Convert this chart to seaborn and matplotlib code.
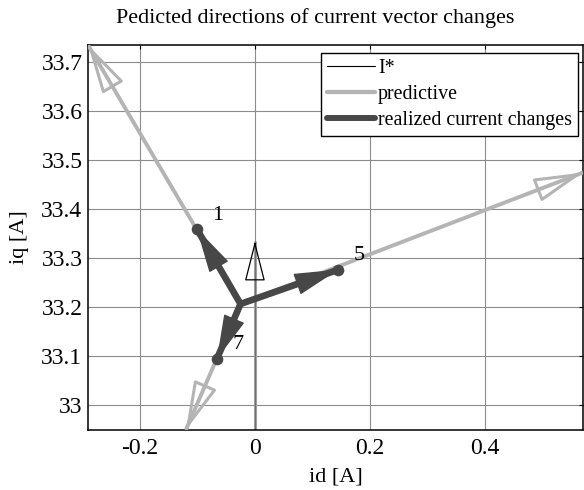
import matplotlib
matplotlib.use("Agg")
import matplotlib.pyplot as plt
import seaborn as sns
import pandas as pd
from matplotlib.patches import ArrowStyle
from matplotlib.lines import Line2D

# Operating point (start of every vector)
origin_id = -0.025
origin_iq = 33.207

# Reference current vector I*
iref_id = [0.0, 0.0]
iref_iq = [32.95, 33.335]

# Voltage vector numbers and the current changes they produce
vec_labels = ["1", "5", "7"]
realized_id = [-0.101, 0.145, -0.066]
realized_iq = [33.360, 33.277, 33.095]

# Predicted direction tips for the same vectors
predicted_id = [-0.290, 0.570, -0.120]
predicted_iq = [33.735, 33.475, 32.950]

xticks = [-0.2, 0.0, 0.2, 0.4]
xticklabels = ["-0.2", "0", "0.2", "0.4"]
yticks = [33.0, 33.1, 33.2, 33.3, 33.4, 33.5, 33.6, 33.7]
yticklabels = ["33", "33.1", "33.2", "33.3", "33.4", "33.5", "33.6", "33.7"]

PRED_COLOR = "#b4b4b4"
REAL_COLOR = "#474747"
GRID_COLOR = "#8c8c8c"

sns.set_style("white")
plt.rcParams["font.family"] = ["Liberation Serif", "DejaVu Serif"]
plt.rcParams["text.color"] = "black"
plt.rcParams["axes.labelcolor"] = "black"

fig = plt.figure(figsize=(5.84, 4.90), dpi=100)
ax = fig.add_axes([88 / 584, 60 / 490, 495 / 584, 385 / 490])

ax.set_xlim(min(predicted_id), max(predicted_id))
ax.set_ylim(min(predicted_iq), max(predicted_iq))

ax.set_xticks(xticks)
ax.set_xticklabels(xticklabels)
ax.set_yticks(yticks)
ax.set_yticklabels(yticklabels)
ax.grid(True, color=GRID_COLOR, linewidth=0.8)
ax.set_axisbelow(True)
ax.tick_params(direction="in", length=3, width=0.8, top=True, right=True,
               labelsize=17, colors="black")
ax.tick_params(axis="x", pad=6)
ax.tick_params(axis="y", pad=4)
for s in ax.spines.values():
    s.set_color("black")
    s.set_linewidth(1.1)

# Reference vector I*
ax.plot(iref_id, iref_iq, color="#a0a0a0", lw=2.2, solid_capstyle="butt", zorder=2)
ax.plot(iref_id, iref_iq, color="#666666", lw=0.6, solid_capstyle="butt", zorder=2.1)
ax.annotate("", xy=(iref_id[1], iref_iq[1]), xytext=(iref_id[1], iref_iq[1] - 0.01),
            arrowprops=dict(arrowstyle=ArrowStyle("-|>", head_length=2.6, head_width=0.66),
                            mutation_scale=10, fc="none", ec="black", lw=0.9,
                            shrinkA=0, shrinkB=0), zorder=2.2)

# Predicted directions: light grey lines with open heads
for px, py in zip(predicted_id, predicted_iq):
    ax.plot([origin_id, px], [origin_iq, py], color=PRED_COLOR, lw=2.8,
            solid_capstyle="butt", zorder=3)
    dx, dy = px - origin_id, py - origin_iq
    ax.annotate("", xy=(px, py), xytext=(px - 0.02 * dx, py - 0.02 * dy),
                arrowprops=dict(arrowstyle=ArrowStyle("-|>", head_length=3.0, head_width=0.75),
                                mutation_scale=10, fc="none", ec=PRED_COLOR, lw=2.2,
                                shrinkA=0, shrinkB=0), zorder=3.1, annotation_clip=False)

# Realized current changes: dark thick lines with filled heads
for rx, ry in zip(realized_id, realized_iq):
    ax.plot([origin_id, rx], [origin_iq, ry], color=REAL_COLOR, lw=4.8,
            solid_capstyle="butt", solid_joinstyle="round", zorder=4)
    dx, dy = rx - origin_id, ry - origin_iq
    ax.annotate("", xy=(rx, ry), xytext=(rx - 0.05 * dx, ry - 0.05 * dy),
                arrowprops=dict(arrowstyle=ArrowStyle("-|>", head_length=2.9, head_width=0.72),
                                mutation_scale=10, fc=REAL_COLOR, ec=REAL_COLOR, lw=1.0,
                                shrinkA=0, shrinkB=0), zorder=4.1)

pts = pd.DataFrame({"id": realized_id, "iq": realized_iq, "vec": vec_labels})
sns.scatterplot(data=pts, x="id", y="iq", ax=ax, color=REAL_COLOR, s=70,
                edgecolor=REAL_COLOR, linewidth=0, zorder=5, legend=False)

for lab, rx, ry in zip(vec_labels, realized_id, realized_iq):
    ax.annotate(lab, xy=(rx, ry), xytext=(15, 10), textcoords="offset points",
                ha="center", va="center", fontsize=16, color="black", zorder=6)

ax.set_xlabel("id [A]", fontsize=16, labelpad=6)
ax.set_ylabel("iq [A]", fontsize=16, labelpad=9)
fig.text(315 / 584, 1 - 18 / 490, "Pedicted directions of current vector changes",
         ha="center", va="center", fontsize=15.9)

handles = [Line2D([], [], color="black", lw=0.8),
           Line2D([], [], color=PRED_COLOR, lw=3.1),
           Line2D([], [], color=REAL_COLOR, lw=4.3)]
leg = ax.legend(handles, ["I*", "predictive", "realized current changes"],
                loc="upper right", bbox_to_anchor=(0.99, 0.98), borderaxespad=0,
                fontsize=14.4, handlelength=2.4, handletextpad=0.15, labelspacing=0.36,
                borderpad=0.3, fancybox=False, framealpha=1, edgecolor="black")
leg.get_frame().set_linewidth(1.0)
leg.set_zorder(10)

fig.savefig("out.png", dpi=100)
